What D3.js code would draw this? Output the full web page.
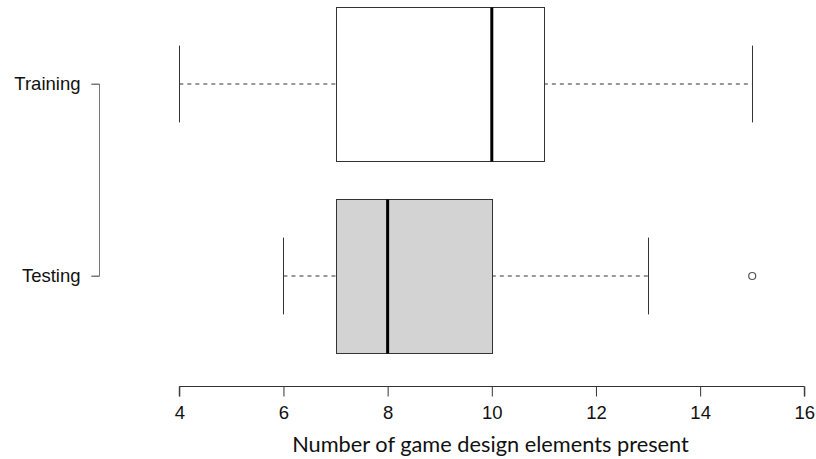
<!DOCTYPE html>
<html>
<head>
<meta charset="utf-8">
<script src="https://cdn.jsdelivr.net/npm/d3@7"></script>
<style>
  html, body { margin: 0; padding: 0; background: #fff; }
  svg { display: block; }
</style>
</head>
<body>
<svg id="chart" width="816" height="459"></svg>
<script>
// Five-number summaries per group
const groups   = ["Training", "Testing"];
const whiskLo  = [4, 6];
const q1       = [7, 7];
const medians  = [10, 8];
const q3       = [11, 10];
const whiskHi  = [15, 13];
const outliers = [[], [15]];
const fills    = ["#ffffff", "#d3d3d3"];
const xTicks   = [4, 6, 8, 10, 12, 14, 16];
const xTitle   = "Number of game design elements present";

const svg = d3.select("#chart");

const x = d3.scaleLinear().domain([4, 16]).range([179.3, 804.3]);
const y = d3.scalePoint().domain(groups).range([84, 276]);
const step = y.step();
const boxH = step * 0.8;
const capH = boxH * 0.5;

const ink = "#333";
const tickFont = "'Liberation Sans', Arial, sans-serif";
const tickSize = "18.5px";

// X axis
const xAxis = svg.append("g")
  .attr("transform", "translate(0,386.5)")
  .call(d3.axisBottom(x).tickValues(xTicks).tickSize(10).tickPadding(9).tickFormat(d3.format("d")));
xAxis.select(".domain").attr("stroke", ink).attr("d", `M${x(4)},10V0H${x(16)}V10`);
xAxis.selectAll(".tick line").attr("stroke", ink);
xAxis.selectAll(".tick text").attr("fill", "#111").style("font-family", tickFont).style("font-size", tickSize);

// Y axis
const yAxis = svg.append("g")
  .attr("transform", "translate(99.5,0)")
  .call(d3.axisLeft(y).tickSize(8).tickPadding(11));
yAxis.select(".domain").attr("stroke", "#777").attr("d", `M-8,${y(groups[0])}H0V${y(groups[1])}H-8`);
yAxis.selectAll(".tick line").attr("stroke", "#777");
yAxis.selectAll(".tick text").attr("fill", "#111").style("font-family", tickFont).style("font-size", tickSize);

// Boxes
groups.forEach((g, i) => {
  const cy = y(g);
  const grp = svg.append("g");
  const top = Math.round(cy - boxH / 2) + 0.5;
  const h = Math.round(boxH);
  // whiskers (dashed)
  grp.append("line")
    .attr("x1", x(whiskLo[i])).attr("x2", x(q1[i]))
    .attr("y1", cy).attr("y2", cy)
    .attr("stroke", ink).attr("stroke-dasharray", "4,4");
  grp.append("line")
    .attr("x1", x(q3[i])).attr("x2", x(whiskHi[i]))
    .attr("y1", cy).attr("y2", cy)
    .attr("stroke", ink).attr("stroke-dasharray", "4,4");
  // staples
  [whiskLo[i], whiskHi[i]].forEach(v => {
    grp.append("line")
      .attr("x1", Math.round(x(v)) + 0.5).attr("x2", Math.round(x(v)) + 0.5)
      .attr("y1", cy - capH / 2).attr("y2", cy + capH / 2)
      .attr("stroke", ink);
  });
  // box
  grp.append("rect")
    .attr("x", Math.round(x(q1[i])) + 0.5)
    .attr("y", top)
    .attr("width", Math.round(x(q3[i])) - Math.round(x(q1[i])))
    .attr("height", h)
    .attr("fill", fills[i]).attr("stroke", ink);
  // median
  grp.append("line")
    .attr("x1", x(medians[i])).attr("x2", x(medians[i]))
    .attr("y1", top).attr("y2", top + h)
    .attr("stroke", "#000").attr("stroke-width", 3);
  // outliers
  outliers[i].forEach(v => {
    grp.append("circle")
      .attr("cx", x(v)).attr("cy", cy).attr("r", 3.5)
      .attr("fill", "none").attr("stroke", "#555").attr("stroke-width", 1.2);
  });
});

// X title, fitted to its width
const title = svg.append("text")
  .attr("x", 490.5).attr("y", 452)
  .attr("text-anchor", "middle")
  .attr("fill", "#111")
  .style("font-family", "Lato, 'Open Sans', sans-serif")
  .style("font-size", "20px")
  .text(xTitle);
const tw = title.node().getComputedTextLength();
title.style("font-size", (20 * 397 / tw).toFixed(2) + "px");
</script>
</body>
</html>
